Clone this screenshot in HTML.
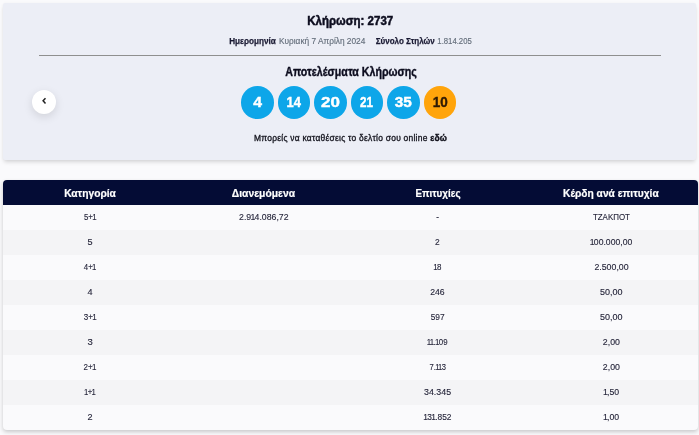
<!DOCTYPE html>
<html lang="el">
<head>
<meta charset="utf-8">
<title>Κλήρωση 2737</title>
<style>
*{box-sizing:border-box;margin:0;padding:0}
html,body{width:699px;height:435px;overflow:hidden;background:#fafafc;font-family:"Liberation Sans",sans-serif;color:#0c0c1e}
.t{display:inline-block;white-space:nowrap;transform-origin:50% 50%}
.ball .t{position:relative;top:.1px}
.card{position:absolute;left:3px;top:3px;width:693px;height:157px;background:#eceef6;border-radius:2px;box-shadow:0 3px 4px -1px rgba(0,0,0,.15),0 0 3px rgba(0,0,0,.04)}
.abs{position:absolute;white-space:nowrap;text-align:center;font-size:0}
.abs .t{vertical-align:top}
.title{font-weight:bold}
.title .t{font-size:13px;line-height:18px;-webkit-text-stroke:.5px #0c0c1e}
.sub .t{font-size:9px;line-height:12px;color:#646e7b;-webkit-text-stroke:.15px #646e7b}
.sub b.t{color:#1a1a33;-webkit-text-stroke:.25px #1a1a33}
.hr{position:absolute;left:36px;top:52px;width:622px;height:1px;background:#8f8f8f}
.res .t{font-weight:bold;font-size:12px;line-height:16px;-webkit-text-stroke:.35px #0c0c1e}
.ball{position:absolute;top:83.2px;width:32.6px;height:32.6px;border-radius:50%;background:#0da6e9;color:#fff;font-weight:bold;font-size:13.9px;line-height:32.6px;text-align:center;-webkit-text-stroke:.4px}
.ball.j{background:#ffa40b;color:#2e1a05;width:32.2px;height:32.2px;top:83.4px;line-height:32.2px;margin-left:.1px}
.note .t{font-size:8.5px;letter-spacing:.25px;line-height:12px;color:#12121c;-webkit-text-stroke:.3px #12121c}
.note b{-webkit-text-stroke:.4px #12121c}
.back{position:absolute;left:28.8px;top:86.8px;width:24.4px;height:24.4px;border-radius:50%;background:#fff;box-shadow:0 3px 10px rgba(0,0,0,.12)}
.back svg{position:absolute;left:0;top:0}
.tbl{position:absolute;left:3px;top:180px;width:695px;height:250px;border-radius:4px;overflow:hidden;box-shadow:0 2px 4px rgba(0,0,0,.2);background:#fafafc}
.row{display:flex;height:25px;font-size:9px;line-height:25px;color:#25253a}
.row .t{-webkit-text-stroke:.12px #25253a}
.row div{flex:1;text-align:center}
.row.h{background:#040c35;color:#fff;font-weight:bold;font-size:10.5px}
.row.h .t{position:relative;top:1px;-webkit-text-stroke:.2px #fff}
.row.a{background:#f4f4f6}
.row i{font-style:normal;margin:0 -.75px}
</style>
</head>
<body>
<div class="card">
  <div class="abs title" style="left:147.4px;top:8.9px;width:400px"><span class="t" id="title" style="transform:translateX(-0.42px) scaleX(0.8825)">Κλήρωση: 2737</span></div>
  <div class="abs sub" style="left:49.6px;top:32.0px;width:400px"><b class="t" id="s1" style="transform:translateX(-0.20px) scaleX(0.9058)">Ημερομηνία</b></div>
  <div class="abs sub" style="left:119.4px;top:32.0px;width:400px"><span class="t" id="s2" style="transform:translateX(-0.67px) scaleX(0.9220)">Κυριακή 7 Απρίλη 2024</span></div>
  <div class="abs sub" style="left:202.2px;top:32.0px;width:400px"><b class="t" id="s3" style="transform:translateX(0.12px) scaleX(0.8893)">Σύνολο Στηλών</b></div>
  <div class="abs sub" style="left:251.6px;top:32.0px;width:400px"><span class="t" id="s4" style="transform:translateX(-0.45px) scaleX(0.8603)">1.814.205</span></div>
  <div class="hr"></div>
  <div class="abs res" style="left:148.0px;top:61.2px;width:400px"><span class="t" id="res" style="transform:translateX(-0.10px) scaleX(0.8871)">Αποτελέσματα Κλήρωσης</span></div>
  <div class="ball" style="left:238.0px"><span class="t" id="b0" style="transform:translateX(0.80px) scaleX(1.1306)">4</span></div>
  <div class="ball" style="left:274.6px"><span class="t" id="b1" style="transform:translateX(-0.02px) scaleX(0.9296)">14</span></div>
  <div class="ball" style="left:311.2px"><span class="t" id="b2" style="transform:translateX(-0.20px) scaleX(1.2183)">20</span></div>
  <div class="ball" style="left:347.8px"><span class="t" id="b3" style="transform:translateX(-0.35px) scaleX(0.8395)">21</span></div>
  <div class="ball" style="left:384.4px"><span class="t" id="b4" style="transform:translateX(-0.47px) scaleX(1.1028)">35</span></div>
  <div class="ball j" style="left:421.0px"><span class="t" id="b5" style="transform:translateX(0.45px) scaleX(0.9685)">10</span></div>
  <div class="abs note" style="left:147.7px;top:129.0px;width:400px"><span class="t" id="note" style="transform:translateX(0.38px) scaleX(0.9934)">Μπορείς να καταθέσεις το δελτίο σου online <b>εδώ</b></span></div>
  <div class="back"><svg width="24" height="24" viewBox="0 0 24 24"><path d="M13.5 8.2 L11.1 10.8 L13.5 13.4" fill="none" stroke="#222" stroke-width="1.5"/></svg></div>
</div>
<div class="tbl">
  <div class="row h"><div><span class="t" id="h0" style="transform:translateX(0.50px) scaleX(0.9756)">Κατηγορία</span></div><div><span class="t" id="h1" style="transform:translateX(0.30px) scaleX(0.9836)">Διανεμόμενα</span></div><div><span class="t" id="h2" style="transform:translateX(0.88px) scaleX(0.9373)">Επιτυχίες</span></div><div><span class="t" id="h3" style="transform:translateX(-0.32px) scaleX(0.9725)">Κέρδη ανά επιτυχία</span></div></div>
  <div class="row"><div><span class="t" id="r0c0" style="transform:translateX(0.12px) scaleX(0.8802)">5+<i>1</i></span></div><div><span class="t" id="r0c1" style="transform:translateX(0.25px) scaleX(0.9686)">2.9<i>1</i>4.086,72</span></div><div><span class="t" id="r0c2" style="transform:translateX(0.00px) scaleX(0.9000)">-</span></div><div><span class="t" id="r0c3" style="transform:translateX(0.42px) scaleX(0.8797)">ΤΖΑΚΠΟΤ</span></div></div>
  <div class="row a"><div><span class="t" id="r1c0" style="transform:translateX(0.50px) scaleX(1.0123)">5</span></div><div></div><div><span class="t" id="r1c2" style="transform:translateX(-0.10px) scaleX(0.9339)">2</span></div><div><span class="t" id="r1c3" style="transform:translateX(0.58px) scaleX(0.9591)"><i>1</i>00.000,00</span></div></div>
  <div class="row"><div><span class="t" id="r2c0" style="transform:translateX(-0.05px) scaleX(0.8692)">4+<i>1</i></span></div><div></div><div><span class="t" id="r2c2" style="transform:translateX(0.30px) scaleX(0.8850)"><i>1</i>8</span></div><div><span class="t" id="r2c3" style="transform:translateX(0.00px) scaleX(0.9775)">2.500,00</span></div></div>
  <div class="row a"><div><span class="t" id="r3c0" style="transform:translateX(0.57px) scaleX(1.0101)">4</span></div><div></div><div><span class="t" id="r3c2" style="transform:translateX(-0.08px) scaleX(0.9630)">246</span></div><div><span class="t" id="r3c3" style="transform:translateX(-0.05px) scaleX(0.9980)">50,00</span></div></div>
  <div class="row"><div><span class="t" id="r4c0" style="transform:translateX(-0.05px) scaleX(0.8946)">3+<i>1</i></span></div><div></div><div><span class="t" id="r4c2" style="transform:translateX(0.17px) scaleX(0.9276)">597</span></div><div><span class="t" id="r4c3" style="transform:translateX(-0.05px) scaleX(0.9980)">50,00</span></div></div>
  <div class="row a"><div><span class="t" id="r5c0" style="transform:translateX(0.60px) scaleX(1.0588)">3</span></div><div></div><div><span class="t" id="r5c2" style="transform:translateX(-0.10px) scaleX(0.8749)"><i>1</i><i>1</i>.<i>1</i>09</span></div><div><span class="t" id="r5c3" style="transform:translateX(0.60px) scaleX(0.9750)">2,00</span></div></div>
  <div class="row"><div><span class="t" id="r6c0" style="transform:translateX(-0.15px) scaleX(0.8883)">2+<i>1</i></span></div><div></div><div><span class="t" id="r6c2" style="transform:translateX(-0.10px) scaleX(0.8458)">7.<i>1</i><i>1</i>3</span></div><div><span class="t" id="r6c3" style="transform:translateX(0.60px) scaleX(0.9750)">2,00</span></div></div>
  <div class="row a"><div><span class="t" id="r7c0" style="transform:translateX(-0.22px) scaleX(0.8590)"><i>1</i>+<i>1</i></span></div><div></div><div><span class="t" id="r7c2" style="transform:translateX(-0.23px) scaleX(0.9814)">34.345</span></div><div><span class="t" id="r7c3" style="transform:translateX(0.42px) scaleX(0.9685)"><i>1</i>,50</span></div></div>
  <div class="row"><div><span class="t" id="r8c0" style="transform:translateX(0.60px) scaleX(1.0125)">2</span></div><div></div><div><span class="t" id="r8c2" style="transform:translateX(-0.10px) scaleX(0.9317)"><i>1</i>3<i>1</i>.852</span></div><div><span class="t" id="r8c3" style="transform:translateX(0.42px) scaleX(0.9685)"><i>1</i>,00</span></div></div>
</div>
</body>
</html>
